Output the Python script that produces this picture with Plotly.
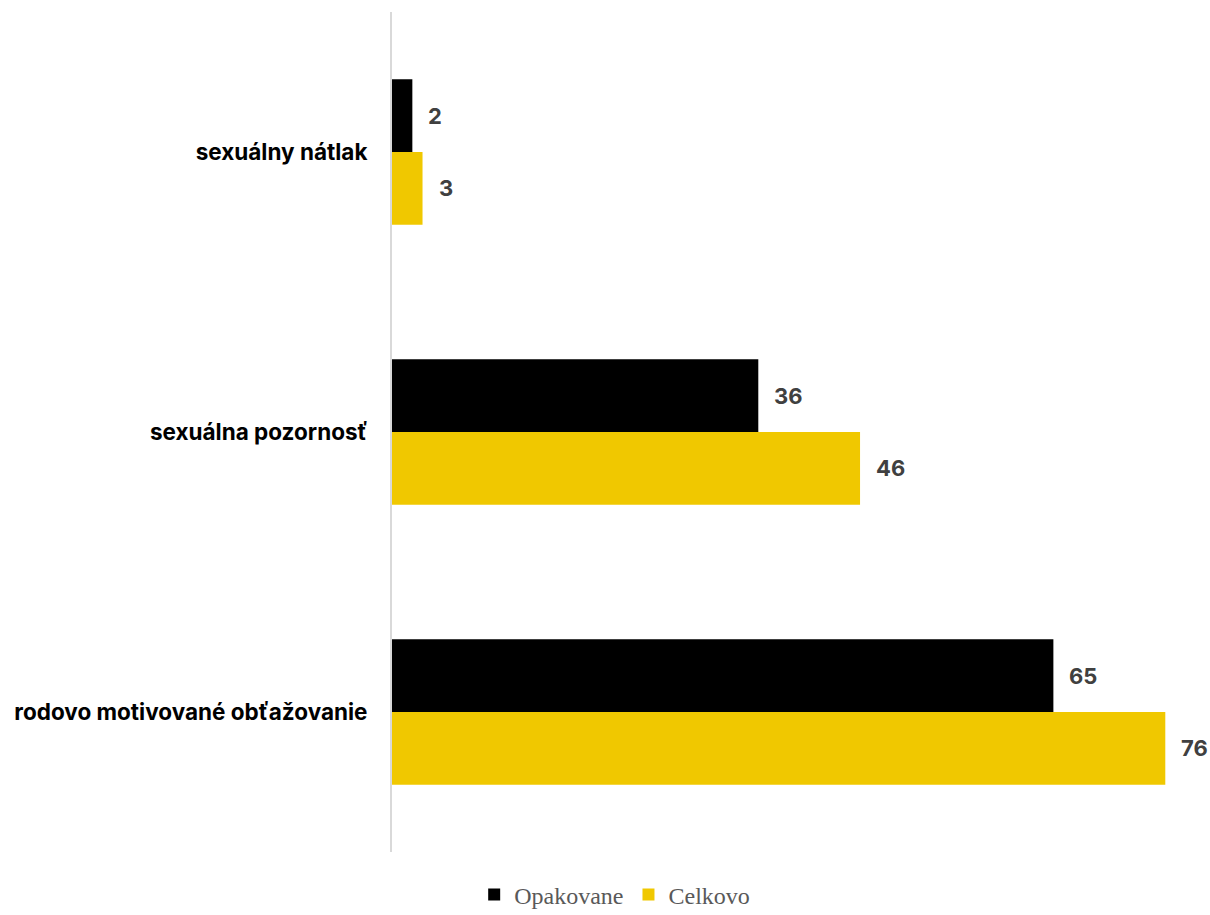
import plotly.graph_objects as go

categories = ["sexuálny nátlak", "sexuálna pozornosť", "rodovo motivované obťažovanie"]
opakovane = [2, 36, 65]
celkovo = [3, 46, 76]
series_names = ["Opakovane", "Celkovo"]
colors = ["#000000", "#F0C800"]

fig = go.Figure()
for name, vals, col in zip(series_names, [opakovane, celkovo], colors):
    fig.add_trace(go.Bar(
        y=categories, x=vals, name=name, orientation="h",
        marker=dict(color=col, line=dict(width=0)),
        offsetgroup=name,
    ))

# value labels
for vals, off in [(opakovane, -0.13), (celkovo, 0.13)]:
    for c_idx, v in enumerate(vals):
        fig.add_annotation(
            x=v, y=c_idx + off, xref="x", yref="y",
            text=str(v), showarrow=False, xanchor="left", yanchor="middle",
            xshift=14,
            font=dict(family="Inter, Roboto, sans-serif", size=22, color="#404040", weight="bold"),
        )

fig.update_layout(
    width=1210, height=915,
    margin=dict(l=392, r=4, t=12, b=63, autoexpand=False),
    paper_bgcolor="white", plot_bgcolor="white",
    barmode="group", bargap=0.48, bargroupgap=0,
    showlegend=True,
    legend=dict(
        orientation="h", xref="container", x=0.508, xanchor="center",
        yref="container", y=0.022, yanchor="middle",
        font=dict(family="Liberation Serif, DejaVu Serif, serif", size=24, color="#595959"),
        traceorder="normal", itemwidth=30,
    ),
    xaxis=dict(range=[0, 80], showgrid=False, zeroline=False, showticklabels=False,
               showline=False, fixedrange=True),
    yaxis=dict(autorange="reversed", showgrid=False, zeroline=False, showline=True,
               linecolor="#d9d9d9", linewidth=2, ticks="", ticklabelstandoff=18,
               tickfont=dict(family="Inter, Roboto, sans-serif", size=22.5, color="#000000", weight="bold")),
)

fig.write_html("out.html")
